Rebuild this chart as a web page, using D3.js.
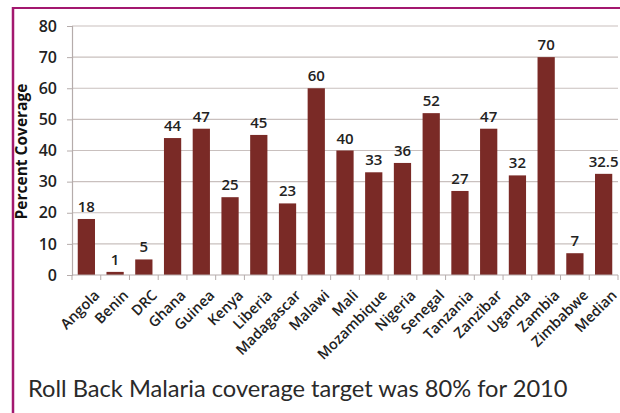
<!DOCTYPE html>
<html lang="en">
<head>
<meta charset="utf-8">
<script src="https://d3js.org/d3.v7.min.js"></script>
<style>
  body { margin: 0; background: #fff; }
  svg { display: block; }
</style>
</head>
<body>
<svg id="chart" width="620" height="413"></svg>
<script>
    // values
    let countries = ["Angola", "Benin", "DRC", "Ghana", "Guinea", "Kenya", "Liberia", "Madagascar",
        "Malawi", "Mali", "Mozambique", "Nigeria", "Senegal", "Tanzania", "Zanzibar", "Uganda",
        "Zambia", "Zimbabwe", "Median"];
    let coverage = [18, 1, 5, 44, 47, 25, 45, 23, 60, 40, 33, 36, 52, 27, 47, 32, 70, 7, 32.5];
    let yTicks = [0, 10, 20, 30, 40, 50, 60, 70, 80];
    let caption = "Roll Back Malaria coverage target was 80% for 2010";

    let rows = countries.map((c, i) => ({name: c, value: coverage[i]}));

    let svg = d3.select("#chart");
    let plotLeft = 72, plotRight = 618, plotTop = 26, plotBottom = 275;

    // frame lines (top and left only)
    svg.append("line").attr("x1", 12).attr("x2", 620).attr("y1", 8).attr("y2", 8)
        .attr("stroke", "#a3186f").attr("stroke-width", 2);
    svg.append("line").attr("x1", 13).attr("x2", 13).attr("y1", 7).attr("y2", 413)
        .attr("stroke", "#a3186f").attr("stroke-width", 2.5);

    let x = d3.scaleBand().domain(countries).range([plotLeft, plotRight]).paddingInner(0.4).paddingOuter(0.2);
    let y = d3.scaleLinear().domain([0, 80]).range([plotBottom, plotTop]);

    // gridlines
    svg.append("g").selectAll("line").data(yTicks.slice(1)).enter().append("line")
        .attr("x1", plotLeft).attr("x2", plotRight)
        .attr("y1", d => y(d)).attr("y2", d => y(d))
        .attr("stroke", "#c9c0be").attr("stroke-width", 1.2);

    // y axis
    let yAxis = svg.append("g").attr("transform", "translate(" + plotLeft + ",0)")
        .call(d3.axisLeft(y).tickValues(yTicks).tickSize(5).tickPadding(10));
    yAxis.select(".domain").attr("stroke", "#b5acab").attr("stroke-width", 1.2);
    yAxis.selectAll(".tick line").attr("stroke", "#b5acab");
    yAxis.selectAll("text").attr("font-family", "'Open Sans', sans-serif").attr("font-size", 16)
        .attr("font-weight", 600).attr("fill", "#222");

    // bars
    svg.append("g").selectAll("rect").data(rows).enter().append("rect")
        .attr("x", d => x(d.name))
        .attr("y", d => y(d.value))
        .attr("width", x.bandwidth())
        .attr("height", d => y(0) - y(d.value))
        .attr("fill", "#7a2a26");

    // value labels
    svg.append("g").selectAll("text").data(rows).enter().append("text")
        .attr("x", d => x(d.name) + x.bandwidth() / 2)
        .attr("y", d => y(d.value) - 7)
        .attr("text-anchor", "middle")
        .attr("font-family", "'Open Sans', sans-serif").attr("font-size", 15).attr("font-weight", 600)
        .attr("fill", "#222")
        .text(d => d.value);

    // x axis with ticks between categories
    let step = x.step();
    svg.append("line").attr("x1", plotLeft).attr("x2", plotRight).attr("y1", plotBottom).attr("y2", plotBottom)
        .attr("stroke", "#b5acab").attr("stroke-width", 1.2);
    svg.append("g").selectAll("line").data(d3.range(countries.length + 1)).enter().append("line")
        .attr("x1", i => plotLeft + i * step).attr("x2", i => plotLeft + i * step)
        .attr("y1", plotBottom).attr("y2", plotBottom + 5)
        .attr("stroke", "#b5acab");

    svg.append("g").selectAll("text").data(countries).enter().append("text")
        .attr("transform", d => "translate(" + (x(d) + x.bandwidth() / 2 + 7) + "," + (plotBottom + 14) + ") rotate(-45)")
        .attr("text-anchor", "end")
        .attr("dy", "0.7em")
        .attr("font-family", "'Open Sans', sans-serif").attr("font-size", 14.5).attr("font-weight", 600)
        .attr("fill", "#222")
        .text(d => d);

    // y axis title
    svg.append("text")
        .attr("transform", "translate(27," + ((plotTop + plotBottom) / 2 + 1) + ") rotate(-90)")
        .attr("text-anchor", "middle")
        .attr("font-family", "'Open Sans', sans-serif").attr("font-size", 15.5).attr("font-weight", 700)
        .attr("fill", "#111")
        .text("Percent Coverage");

    // caption
    let cap = svg.append("text").attr("x", 28).attr("y", 397)
        .attr("font-family", "Lato, sans-serif").attr("font-size", 20)
        .attr("fill", "#2a2a2a")
        .text(caption);
    let w = cap.node().getComputedTextLength();
    cap.attr("font-size", 20 * 540 / w);
</script>
</body>
</html>
